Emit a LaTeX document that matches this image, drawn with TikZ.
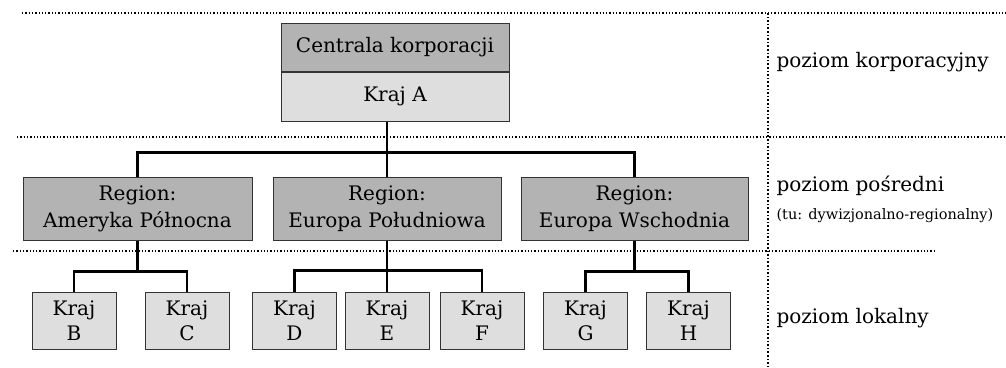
\documentclass[tikz,border=0pt]{standalone}
\usepackage{fontspec}
\setmainfont{DejaVu Serif}
\definecolor{ciemny}{HTML}{B3B3B3}
\definecolor{jasny}{HTML}{DEDEDE}
\tikzset{
  box/.style={draw=black!80, line width=1, inner sep=0pt, align=center,
    font=\fontsize{20}{27}\selectfont},
  krajbox/.style={box, fill=jasny, minimum width=84, minimum height=57,
    font=\fontsize{20}{25}\selectfont},
  link/.style={line width=2.8},
  sep/.style={dotted, line width=1.3},
  opis/.style={anchor=west, font=\fontsize{20}{24}\selectfont}
}
\begin{document}
\begin{tikzpicture}[x=1pt, y=-1pt]
  \useasboundingbox (0,0) rectangle (1006,367);
  % poziomy
  \draw[sep] (22,13) -- (1006,13);
  \draw[sep] (17,137) -- (1006,137);
  \draw[sep] (13,251) -- (935,251);
  \draw[sep, line width=1.6] (768,13) -- (768,367);
  % korporacja
  \node[box, fill=ciemny, minimum width=228, minimum height=48] (centrala) at (395,47) {Centrala korporacji};
  \node[box, fill=jasny, minimum width=228, minimum height=49] (krajA) at (395,96.5) {Kraj A};
  % regiony
  \node[box, fill=ciemny, minimum width=229, minimum height=63] (ap) at (137.5,208.5) {Region:\\Ameryka Północna};
  \node[box, fill=ciemny, minimum width=228, minimum height=63] (ep) at (387,208.5) {Region:\\Europa Południowa};
  \node[box, fill=ciemny, minimum width=227, minimum height=63] (ew) at (634.5,208.5) {Region:\\Europa Wschodnia};
  % kraje
  \node[krajbox] (B) at (74,320.5) {Kraj\\B};
  \node[krajbox] (C) at (187,320.5) {Kraj\\C};
  \node[krajbox] (D) at (294.5,320.5) {Kraj\\D};
  \node[krajbox] (E) at (387,320.5) {Kraj\\E};
  \node[krajbox] (F) at (482,320.5) {Kraj\\F};
  \node[krajbox] (G) at (585.5,320.5) {Kraj\\G};
  \node[krajbox] (H) at (688.5,320.5) {Kraj\\H};
  % polaczenia
  \draw[link] (ep.north |- krajA.south) -- (ep.north);
  \draw[link] (ap.north) -- ++(0,-24) -| (ew.north);
  \draw[link] (ap.south) -- ++(0,31) coordinate (apj);
  \draw[link] (B.north) |- (apj) -| (C.north);
  \draw[link] (ep.south) -- (E.north);
  \path (E.north) ++(0,-21) coordinate (epj);
  \draw[link] (D.north) |- (epj) -| (F.north);
  \draw[link] (ew.south) -- ++(0,31) coordinate (ewj);
  \draw[link] (G.north) |- (ewj) -| (H.north);
  % opisy
  \node[opis] (pk) at (773,62) {poziom korporacyjny};
  \node[opis] (pp) at (773,186) {poziom pośredni};
  \node[opis, font=\fontsize{14.5}{17}\selectfont] (tu) at (773,216) {(tu: dywizjonalno-regionalny)};
  \node[opis] (pl) at (773,318) {poziom lokalny};
\end{tikzpicture}
\end{document}
